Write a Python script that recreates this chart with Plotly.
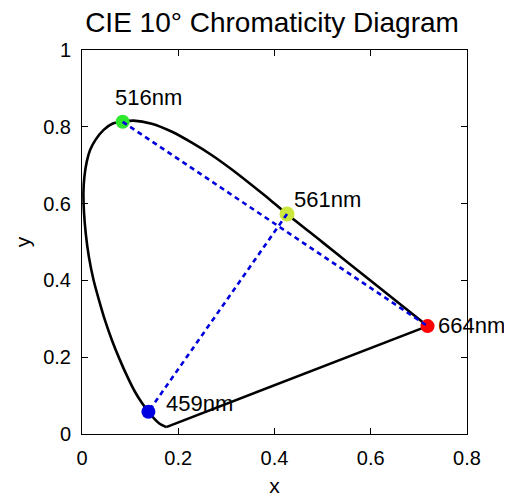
import plotly.graph_objects as go

# Spectral locus (CIE 10°), from the short-wavelength corner to the red end
locus_x = [0.175, 0.160, 0.150, 0.138, 0.125, 0.110, 0.094, 0.078, 0.062, 0.048, 0.035, 0.024,
           0.0145, 0.008, 0.004, 0.003, 0.005, 0.010, 0.017, 0.028, 0.045, 0.063, 0.0845, 0.107,
           0.145, 0.187, 0.229, 0.270, 0.310, 0.350, 0.390, 0.426, 0.500, 0.600, 0.718]
locus_y = [0.018, 0.028, 0.040, 0.058, 0.080, 0.110, 0.150, 0.195, 0.245, 0.295, 0.350, 0.401,
           0.460, 0.520, 0.580, 0.630, 0.670, 0.710, 0.740, 0.766, 0.792, 0.808, 0.813, 0.816,
           0.808, 0.787, 0.758, 0.726, 0.690, 0.651, 0.611, 0.573, 0.499, 0.399, 0.281]

# Marked wavelengths
wavelengths = [516, 561, 664, 459]
point_x = [0.0845, 0.426, 0.718, 0.138]
point_y = [0.813, 0.573, 0.281, 0.058]

# Dashed connections (pairs of wavelengths)
pairs = [(516, 664), (561, 459)]

x_ticks = [0, 0.2, 0.4, 0.6, 0.8]
x_tick_text = ["0", "0.2", "0.4", "0.6", "0.8"]
y_ticks = [0, 0.2, 0.4, 0.6, 0.8, 1]
y_tick_text = ["0", "0.2", "0.4", "0.6", "0.8", "1"]

# styles
point_colors = {516: "#2ee82e", 561: "#cbe63c", 664: "#ff0000", 459: "#0000e0"}
point_sizes = {516: 14, 561: 15, 664: 14, 459: 14}
label_shift = {516: (-10, 24), 561: (5, 14), 664: (8, 1), 459: (16, 8)}
FONT = "Arial, Liberation Sans, sans-serif"
PAGE_OFFSET = 8  # default body margin of the html page

fig = go.Figure()

# spectral locus (smooth)
fig.add_trace(go.Scatter(
    x=locus_x, y=locus_y, mode="lines",
    line=dict(color="black", width=2.6, shape="spline", smoothing=0.8),
    hoverinfo="skip", showlegend=False))
# line of purples (straight, closes the locus)
fig.add_trace(go.Scatter(
    x=[locus_x[-1], locus_x[0]], y=[locus_y[-1], locus_y[0]], mode="lines",
    line=dict(color="black", width=2.6), hoverinfo="skip", showlegend=False))

idx = {w: i for i, w in enumerate(wavelengths)}
for w in wavelengths:
    i = idx[w]
    fig.add_trace(go.Scatter(
        x=[point_x[i]], y=[point_y[i]], mode="markers",
        marker=dict(color=point_colors[w], size=point_sizes[w], line=dict(width=0)),
        showlegend=False, cliponaxis=False))

for a, b in pairs:
    ia, ib = idx[a], idx[b]
    fig.add_trace(go.Scatter(
        x=[point_x[ia], point_x[ib]], y=[point_y[ia], point_y[ib]], mode="lines",
        line=dict(color="#0000dd", width=2.6, dash="5px,4px"), showlegend=False))

for w in wavelengths:
    i = idx[w]
    dx, dy = label_shift[w]
    fig.add_annotation(x=point_x[i], y=point_y[i], text=f"{w}nm", showarrow=False,
                       xanchor="left", yanchor="middle", xshift=dx, yshift=dy,
                       font=dict(family=FONT, size=22, color="black"))

axis_common = dict(showline=True, linecolor="black", linewidth=1, mirror="ticks",
                   ticks="inside", ticklen=6, tickcolor="black", tickwidth=1,
                   showgrid=False, zeroline=False, automargin=False,
                   tickfont=dict(family=FONT, size=20, color="black"))

W, H = 512 - PAGE_OFFSET, 500 - PAGE_OFFSET
fig.update_layout(
    width=W, height=H,
    margin=dict(l=82 - PAGE_OFFSET, r=45, t=50 - PAGE_OFFSET, b=66),
    paper_bgcolor="white", plot_bgcolor="white",
    title=dict(text="CIE 10° Chromaticity Diagram",
               x=(272 - PAGE_OFFSET) / W, xanchor="center",
               y=1 - (22 - PAGE_OFFSET) / H, yanchor="middle", yref="container",
               font=dict(family=FONT, size=28, color="black")),
    xaxis=dict(range=[0, 0.8], tickvals=x_ticks, ticktext=x_tick_text,
               title=dict(text="x", font=dict(family=FONT, size=21, color="black"), standoff=10),
               ticklabelstandoff=6, **axis_common),
    yaxis=dict(range=[0, 1], tickvals=y_ticks, ticktext=y_tick_text,
               title=dict(text="y", font=dict(family=FONT, size=21, color="black"), standoff=6),
               ticklabelstandoff=6, **axis_common),
)

fig.write_html("out.html")
